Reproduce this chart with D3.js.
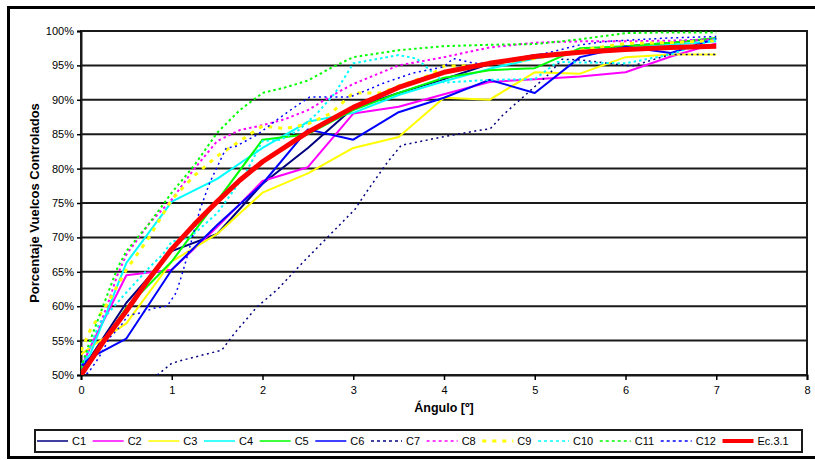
<!DOCTYPE html>
<html>
<head>
<meta charset="utf-8">
<script src="https://cdn.jsdelivr.net/npm/d3@7"></script>
<style>
  html, body { margin: 0; padding: 0; background: #fff; }
  svg { display: block; }
  text { font-family: "Liberation Sans", Arial, sans-serif; fill: #000; }
</style>
</head>
<body>
<svg id="chart" width="815" height="460"></svg>
<script>
// Angles (degrees) shared by the solid series
const solidAngles = [0, 0.1, 0.5, 1, 1.5, 2, 2.5, 3, 3.5, 4, 4.5, 5, 5.5, 6, 6.5, 7];
const c1 = [51, 52.5, 60.5, 68, 70.5, 77.8, 83, 88.8, 91, 93, 95.2, 96.5, 97, 97.8, 98.3, 98.9];
const c2 = [51, 54, 64.5, 65.3, 71.5, 78.2, 80.2, 88, 89, 90.8, 92.6, 93, 93.4, 94, 96.3, 98.2];
const c3 = [53, 54, 57.5, 66.5, 70.5, 76.5, 79.3, 83, 84.6, 90.3, 90, 94, 93.8, 96.2, 96.6, 96.6];
const c4 = [51.5, 53, 66.3, 75.2, 78.5, 83, 86.8, 88.1, 90.7, 92.7, 94.5, 96, 97, 97.6, 98, 98.5];
const c5 = [50.5, 52, 59.8, 66.5, 75.3, 84.2, 85, 88.5, 91, 93.2, 94.3, 94.6, 97.5, 97.8, 98.3, 99];
const c6 = [51.3, 52.5, 55.3, 65.3, 71.8, 77.8, 85.7, 84.2, 88.2, 90.3, 92.9, 91, 96.2, 97.7, 96.8, 98.9];

// Dashed series, each with its own angle grid
const c7Angles = [0.84, 1.0, 1.13, 1.55, 1.7, 1.94, 2.17, 2.44, 3.02, 3.14, 3.37, 3.53, 3.65, 3.98, 4.36, 4.51, 4.65, 5.17, 5.3, 5.5, 6.07, 6.5, 7];
const c7 = [50, 51.7, 52.2, 53.6, 56.2, 59.9, 62.5, 66.3, 74.1, 76.5, 80.8, 83.4, 83.7, 84.6, 85.5, 85.8, 87.8, 93.9, 95.9, 95.8, 94.9, 96.6, 96.6];

const c8Angles = [0, 0.1, 0.2, 0.3, 0.4, 0.5, 0.75, 1, 1.25, 1.5, 1.75, 2, 2.25, 2.5, 2.75, 3, 3.5, 4, 4.5, 5, 5.5, 6, 6.5, 7];
const c8 = [51, 54, 57, 60.5, 64.5, 67.5, 72, 75.5, 80, 84, 85.6, 86.3, 87.2, 88.5, 90.5, 92.3, 95, 96.2, 97.6, 98.3, 98.5, 98.5, 98.6, 98.8];

const c9Angles = [0, 0.1, 0.3, 0.5, 0.75, 1, 1.25, 1.5, 1.75, 2, 2.25, 2.5, 2.75, 3, 3.3, 3.5, 3.85, 4, 4.2, 4.5, 5, 5.5, 6, 6.5, 7];
const c9 = [53.5, 56.5, 60.6, 65.3, 70, 75.5, 79, 81.8, 84, 86.2, 85.8, 86.5, 88, 91, 91, 92, 93.6, 94.9, 94.9, 95.2, 96, 97.2, 98.2, 98.3, 98.6];

const c10Angles = [0, 0.1, 0.2, 0.5, 0.78, 0.9, 1, 1.2, 1.5, 1.8, 2, 2.2, 2.4, 2.6, 2.8, 3, 3.5, 3.7, 4, 4.5, 5, 5.25, 6, 6.5, 7];
const c10 = [51, 54, 57.5, 62, 66, 67.5, 69.4, 70, 73.5, 79, 84, 84.2, 85.6, 88, 91, 95.3, 96.5, 96, 92.5, 92.9, 93, 95.5, 95.3, 96.6, 98.9];

const c11Angles = [0, 0.1, 0.2, 0.3, 0.4, 0.5, 0.75, 1, 1.25, 1.5, 1.75, 2, 2.25, 2.5, 2.75, 3, 3.5, 4, 4.5, 5, 5.5, 6, 6.5, 7];
const c11 = [51, 55, 58.5, 62, 65.5, 68, 72, 76.5, 80.5, 85.2, 88.5, 91, 91.8, 92.8, 94.6, 96.2, 97.2, 97.8, 98, 98.1, 98.8, 99.7, 99.8, 99.8];

const c12Angles = [0, 0.08, 0.2, 0.32, 0.43, 0.52, 0.65, 0.8, 0.95, 1.05, 1.11, 1.17, 1.31, 1.42, 1.6, 1.7, 1.94, 2.16, 2.34, 2.52, 2.96, 3.15, 3.33, 3.66, 4.0, 4.1, 4.34, 4.6, 5.2, 5.5, 5.8, 6.5, 7];
const c12 = [50, 50.3, 52.6, 55.5, 57, 58.7, 59, 59.7, 60, 62, 64.5, 67.2, 74, 78, 83, 83.2, 84.9, 87.1, 88.8, 90.4, 90.4, 91.4, 92.4, 93.9, 94.8, 96, 95.3, 95.3, 97, 98, 98.5, 99, 99.2];

// Fitted equation 3.1
const ecAngles = [0, 0.25, 0.5, 0.75, 1, 1.25, 1.5, 1.75, 2, 2.5, 3, 3.5, 4, 4.5, 5, 5.5, 6, 6.5, 7];
const ec = [50, 54.9, 59.3, 64.0, 68.3, 71.9, 75.2, 78.3, 81, 85.3, 88.9, 91.8, 94.0, 95.3, 96.3, 96.9, 97.3, 97.6, 97.8];

// Axis ticks
const xTicks = [0, 1, 2, 3, 4, 5, 6, 7, 8];
const yTicks = [50, 55, 60, 65, 70, 75, 80, 85, 90, 95, 100];

const zip = (a, v) => a.map((x, i) => ({ x, y: v[i] }));

const series = [
  { name: "C1",  pts: zip(solidAngles, c1),  color: "#000080", w: 2,   dash: null },
  { name: "C2",  pts: zip(solidAngles, c2),  color: "#FF00FF", w: 2,   dash: null },
  { name: "C3",  pts: zip(solidAngles, c3),  color: "#FFFF00", w: 2,   dash: null },
  { name: "C4",  pts: zip(solidAngles, c4),  color: "#00FFFF", w: 2,   dash: null },
  { name: "C5",  pts: zip(solidAngles, c5),  color: "#00FF00", w: 2,   dash: null },
  { name: "C6",  pts: zip(solidAngles, c6),  color: "#0000FF", w: 2,   dash: null },
  { name: "C7",  pts: zip(c7Angles, c7),     color: "#000080", w: 1.5, dash: "2,3.5" },
  { name: "C8",  pts: zip(c8Angles, c8),     color: "#FF00FF", w: 2,   dash: "2.5,3" },
  { name: "C9",  pts: zip(c9Angles, c9),     color: "#FFFF00", w: 3,   dash: "4,6" },
  { name: "C10", pts: zip(c10Angles, c10),   color: "#00FFFF", w: 2,   dash: "2.5,3" },
  { name: "C11", pts: zip(c11Angles, c11),   color: "#00FF00", w: 2,   dash: "2.5,3" },
  { name: "C12", pts: zip(c12Angles, c12),   color: "#0000FF", w: 1.5, dash: "2,3.5" },
  { name: "Ec.3.1", pts: zip(ecAngles, ec),  color: "#FF0000", w: 5,   dash: null }
];

const svg = d3.select("#chart");
const plot = { left: 81, top: 31, right: 807, bottom: 375 };

// Outer frame (its right edge runs past the canvas)
svg.append("rect")
  .attr("x", 8.5).attr("y", 7.5).attr("width", 812).attr("height", 450)
  .attr("fill", "#fff").attr("stroke", "#000").attr("stroke-width", 3);

const x = d3.scaleLinear().domain([0, 8]).range([plot.left, plot.right]);
const y = d3.scaleLinear().domain([50, 100]).range([plot.bottom, plot.top]);

// Horizontal grid lines
svg.append("g")
  .selectAll("line")
  .data(yTicks)
  .join("line")
  .attr("x1", plot.left).attr("x2", plot.right)
  .attr("y1", d => y(d)).attr("y2", d => y(d))
  .attr("stroke", "#1a1a1a").attr("stroke-width", 2);

// Plot area border
svg.append("rect")
  .attr("x", plot.left).attr("y", plot.top)
  .attr("width", plot.right - plot.left).attr("height", plot.bottom - plot.top)
  .attr("fill", "none").attr("stroke", "#1a1a1a").attr("stroke-width", 2);

// Axes
const yAxis = d3.axisLeft(y).tickValues(yTicks).tickSize(4).tickPadding(3)
  .tickFormat(d => d + "%");
const gy = svg.append("g").attr("transform", `translate(${plot.left},0)`).call(yAxis);
gy.select(".domain").attr("stroke", "#1a1a1a").attr("stroke-width", 2);
gy.selectAll(".tick line").attr("stroke", "#000").attr("stroke-width", 1.5);
gy.selectAll(".tick text").attr("font-size", 11).attr("fill", "#222")
  .style("font-family", '"Liberation Sans", Arial, sans-serif');

const xAxis = d3.axisBottom(x).tickValues(xTicks).tickSize(5).tickPadding(6)
  .tickFormat(d3.format("d"));
const gx = svg.append("g").attr("transform", `translate(0,${plot.bottom})`).call(xAxis);
gx.select(".domain").attr("stroke", "#1a1a1a").attr("stroke-width", 2);
gx.selectAll(".tick line").attr("stroke", "#000").attr("stroke-width", 1.5);
gx.selectAll(".tick text").attr("font-size", 11).attr("fill", "#222")
  .style("font-family", '"Liberation Sans", Arial, sans-serif');

// Axis titles
svg.append("text")
  .attr("x", (plot.left + plot.right) / 2).attr("y", 412)
  .attr("text-anchor", "middle").attr("font-size", 12.5).attr("font-weight", "bold")
  .text("Ángulo [º]");
svg.append("text")
  .attr("transform", `translate(39,${(plot.top + plot.bottom) / 2}) rotate(-90)`)
  .attr("text-anchor", "middle").attr("font-size", 13).attr("font-weight", "bold")
  .text("Porcentaje Vuelcos Controlados");

// Series lines
svg.append("clipPath").attr("id", "plot-clip")
  .append("rect")
  .attr("x", plot.left).attr("y", plot.top - 3)
  .attr("width", plot.right - plot.left).attr("height", plot.bottom - plot.top + 3);

const line = d3.line().x(d => x(d.x)).y(d => y(d.y));
svg.append("g").attr("clip-path", "url(#plot-clip)")
  .selectAll("path")
  .data(series)
  .join("path")
  .attr("d", d => line(d.pts))
  .attr("fill", "none")
  .attr("stroke", d => d.color)
  .attr("stroke-width", d => d.w)
  .attr("stroke-dasharray", d => d.dash)
  .attr("stroke-linejoin", "round");

// Legend
const legend = svg.append("g");
legend.append("rect")
  .attr("x", 35).attr("y", 430).attr("width", 767).attr("height", 22)
  .attr("fill", "#fff").attr("stroke", "#1a1a1a").attr("stroke-width", 2);

let lx = 37;
const ly = 441;
series.forEach(s => {
  legend.append("line")
    .attr("x1", lx).attr("x2", lx + 31).attr("y1", ly).attr("y2", ly)
    .attr("stroke", s.color)
    .attr("stroke-width", s.name === "Ec.3.1" ? 4 : (s.name === "C9" ? 3 : 1.5))
    .attr("stroke-dasharray", s.dash ? (s.name === "C9" ? "4,6" : "3,3") : null);
  const t = legend.append("text")
    .attr("x", lx + 35).attr("y", ly + 4)
    .attr("font-size", 11)
    .text(s.name);
  lx += 35 + t.node().getComputedTextLength() + 6.6;
});
</script>
</body>
</html>
